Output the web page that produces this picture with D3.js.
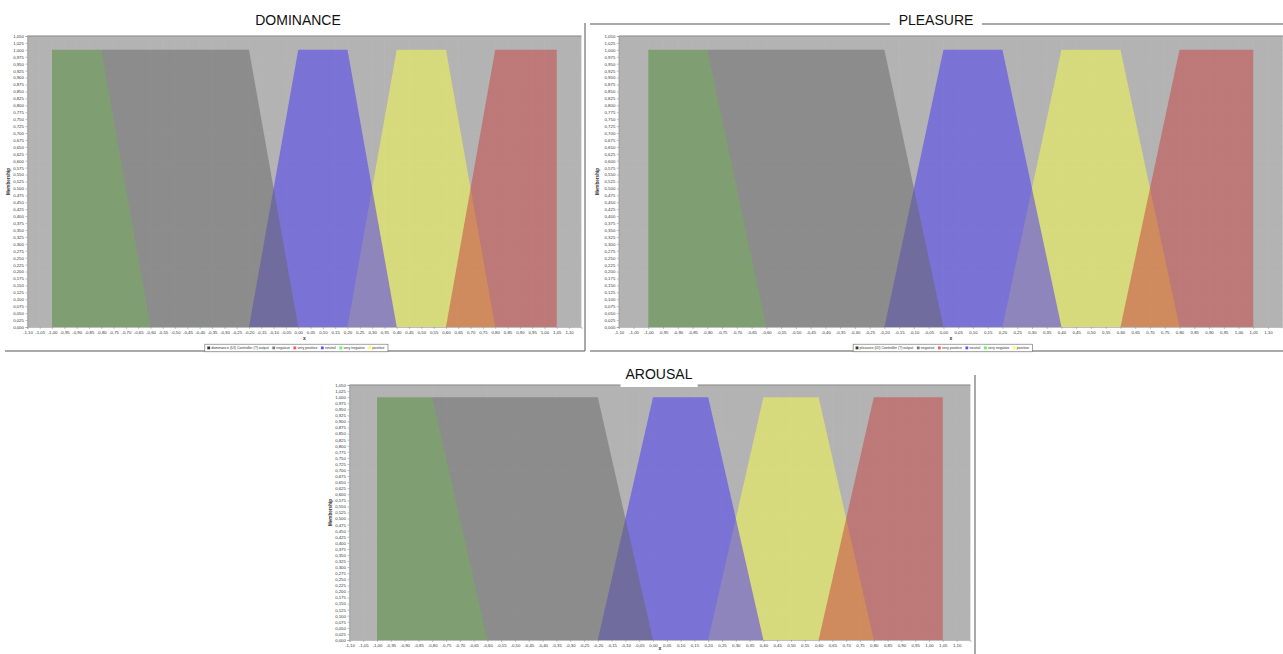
<!DOCTYPE html>
<html>
<head>
<meta charset="utf-8">
<script src="https://cdn.jsdelivr.net/npm/d3@7"></script>
<style>
  body { margin: 0; background: #fff; }
  svg text { font-family: "Liberation Sans", Arial, sans-serif; }
</style>
</head>
<body>
<div id="chart"></div>
<script>
//Data: three fuzzy variables sharing the same five terms
const variables = ["dominance", "pleasure", "arousal"];
const titles = ["DOMINANCE", "PLEASURE", "AROUSAL"];
const legendNames = ["negative", "very positive", "neutral", "very negative", "positive"];

// trapezoid corners [a, b, c, d] of each membership function
const veryNegative = [-1.00, -1.00, -0.80, -0.60];
const negative = [-1.00, -0.80, -0.20, 0.00];
const neutral = [-0.20, 0.00, 0.20, 0.40];
const positive = [0.20, 0.40, 0.60, 0.80];
const veryPositive = [0.60, 0.80, 1.05, 1.05];

const xDomain = [-1.10, 1.15];
const yDomain = [0, 1.05];
const xTickValues = d3.range(-22, 23).map(i => i * 0.05);
const yTickValues = d3.range(0, 43).map(i => i * 0.025);

//Styles, draw order bottom to top
const series = [
  {name: "positive", shape: positive, fill: "#faff46", opacity: 0.5, key: "#ffff55"},
  {name: "neutral", shape: neutral, fill: "#4432fa", opacity: 0.5, key: "#5555ff"},
  {name: "negative", shape: negative, fill: "#666666", opacity: 0.5, key: "#7a7a7a"},
  {name: "very positive", shape: veryPositive, fill: "#c83e3e", opacity: 0.5, key: "#ff5555"},
  {name: "very negative", shape: veryNegative, fill: "#7f9f72", opacity: 1, key: "#55ff55"}
];

const layout = [
  {left: 27.4, top: 36, width: 554, height: 291, titleX: 298, titleY: 25, yLabelX: 10, legend: true},
  {left: 618.8, top: 36, width: 664, height: 291, titleX: 936, titleY: 25, yLabelX: 599, legend: true},
  {left: 349.4, top: 385, width: 621, height: 255, titleX: 659, titleY: 379, yLabelX: 332, legend: false}
];

const euro = d3.formatLocale({decimal: ",", thousands: ".", grouping: [3], currency: ["", "€"], minus: "-"});
const fmtX = euro.format(".2f");
const fmtY = euro.format(".3f");

const svg = d3.select("#chart").append("svg")
  .attr("width", 1283)
  .attr("height", 654);

//Panel frames
const frameColor = "#8c8c8c";
const frames = [
  [585, 23, 585, 351], [5, 351, 585, 351],
  [590, 24, 890, 24], [982, 24, 1283, 24], [590, 351, 1283, 351],
  [975, 375, 975, 654]
];
svg.selectAll("line.frame")
  .data(frames)
  .enter()
  .append("line")
  .attr("class", "frame")
  .attr("x1", d => d[0]).attr("y1", d => d[1])
  .attr("x2", d => d[2]).attr("y2", d => d[3])
  .attr("stroke", frameColor)
  .attr("stroke-width", 1.5);

variables.forEach((v, i) => drawPanel(v, titles[i], layout[i]));

function drawPanel(variable, title, L) {
  const g = svg.append("g").attr("transform", `translate(${L.left},${L.top})`);

  const x = d3.scaleLinear().domain(xDomain).range([0, L.width]);
  const y = d3.scaleLinear().domain(yDomain).range([L.height, 0]);

  g.append("rect")
    .attr("width", L.width)
    .attr("height", L.height)
    .attr("fill", "#b3b3b3");

  //faint gridlines
  g.selectAll("line.gx")
    .data(xTickValues)
    .enter()
    .append("line")
    .attr("x1", d => x(d)).attr("x2", d => x(d))
    .attr("y1", 0).attr("y2", L.height)
    .attr("stroke", "#b9b9b9")
    .attr("stroke-width", 0.5);
  g.selectAll("line.gy")
    .data(yTickValues)
    .enter()
    .append("line")
    .attr("y1", d => y(d)).attr("y2", d => y(d))
    .attr("x1", 0).attr("x2", L.width)
    .attr("stroke", "#b8b8b8")
    .attr("stroke-width", 0.3);

  const area = d3.area()
    .x(p => x(p[0]))
    .y0(y(0))
    .y1(p => y(p[1]));

  g.selectAll("path.term")
    .data(series)
    .enter()
    .append("path")
    .attr("class", "term")
    .attr("d", s => area([[s.shape[0], 0], [s.shape[1], 1], [s.shape[2], 1], [s.shape[3], 0]]))
    .attr("fill", s => s.fill)
    .attr("fill-opacity", s => s.opacity);

  g.append("line")
    .attr("x1", 0).attr("x2", L.width)
    .attr("y1", 0).attr("y2", 0)
    .attr("stroke", "#8a8a8a")
    .attr("stroke-width", 1.2);

  const xAxis = g.append("g")
    .attr("transform", `translate(0,${L.height})`)
    .call(d3.axisBottom(x).tickValues(xTickValues).tickSize(2).tickPadding(2).tickFormat(fmtX));
  xAxis.selectAll("text").attr("font-size", 4.3).attr("fill", "#333");

  const yAxis = g.append("g")
    .call(d3.axisLeft(y).tickValues(yTickValues).tickSize(2).tickPadding(1.5).tickFormat(fmtY));
  yAxis.selectAll("text").attr("font-size", 4.3).attr("fill", "#333");

  [xAxis, yAxis].forEach(a => {
    a.select(".domain").attr("stroke", "#999").attr("stroke-width", 0.6);
    a.selectAll(".tick line").attr("stroke", "#888").attr("stroke-width", 0.5);
  });

  //axis labels
  g.append("text")
    .attr("x", L.width / 2)
    .attr("y", Math.min(L.height + 13, 650 - L.top))
    .attr("text-anchor", "middle")
    .attr("font-size", 5)
    .attr("font-weight", "bold")
    .attr("fill", "#333")
    .text("x");

  svg.append("text")
    .attr("transform", `translate(${L.yLabelX},${L.top + L.height / 2}) rotate(-90)`)
    .attr("text-anchor", "middle")
    .attr("font-size", 4.6)
    .attr("font-weight", "bold")
    .attr("fill", "#333")
    .text("Membership");

  //legend (the arousal one falls below the visible page)
  if (L.legend) {
    const legendItems = [{name: variable + " (UI) Controller (?) output", key: "#333"}]
      .concat(legendNames.map(n => ({name: n, key: series.find(s => s.name === n).key})));
    const lg = g.append("g");
    let cx = 2.5;
    legendItems.forEach(item => {
      lg.append("rect")
        .attr("x", cx).attr("y", -1.5)
        .attr("width", 2.8).attr("height", 2.8)
        .attr("fill", item.key);
      const t = lg.append("text")
        .attr("x", cx + 4).attr("y", 1.3)
        .attr("font-size", 3.6)
        .attr("fill", "#333")
        .text(item.name);
      cx += 4 + t.node().getComputedTextLength() + 3.5;
    });
    lg.insert("rect", ":first-child")
      .attr("x", 0).attr("y", -3.8)
      .attr("width", cx).attr("height", 7.6)
      .attr("fill", "#fff")
      .attr("stroke", "#666")
      .attr("stroke-width", 0.6);
    lg.attr("transform", `translate(${L.width / 2 - cx / 2 - 8},${L.height + 21})`);
  }

  //title
  const tt = svg.append("text")
    .attr("x", L.titleX)
    .attr("y", L.titleY)
    .attr("text-anchor", "middle")
    .attr("font-size", 14)
    .attr("fill", "#111")
    .text(title);
  if (variable === "arousal") {
    const b = tt.node().getBBox();
    svg.insert("rect", () => tt.node())
      .attr("x", b.x - 5).attr("y", b.y - 4)
      .attr("width", b.width + 10).attr("height", L.top + 2 - (b.y - 4))
      .attr("fill", "#fff");
  }
}
</script>
</body>
</html>
